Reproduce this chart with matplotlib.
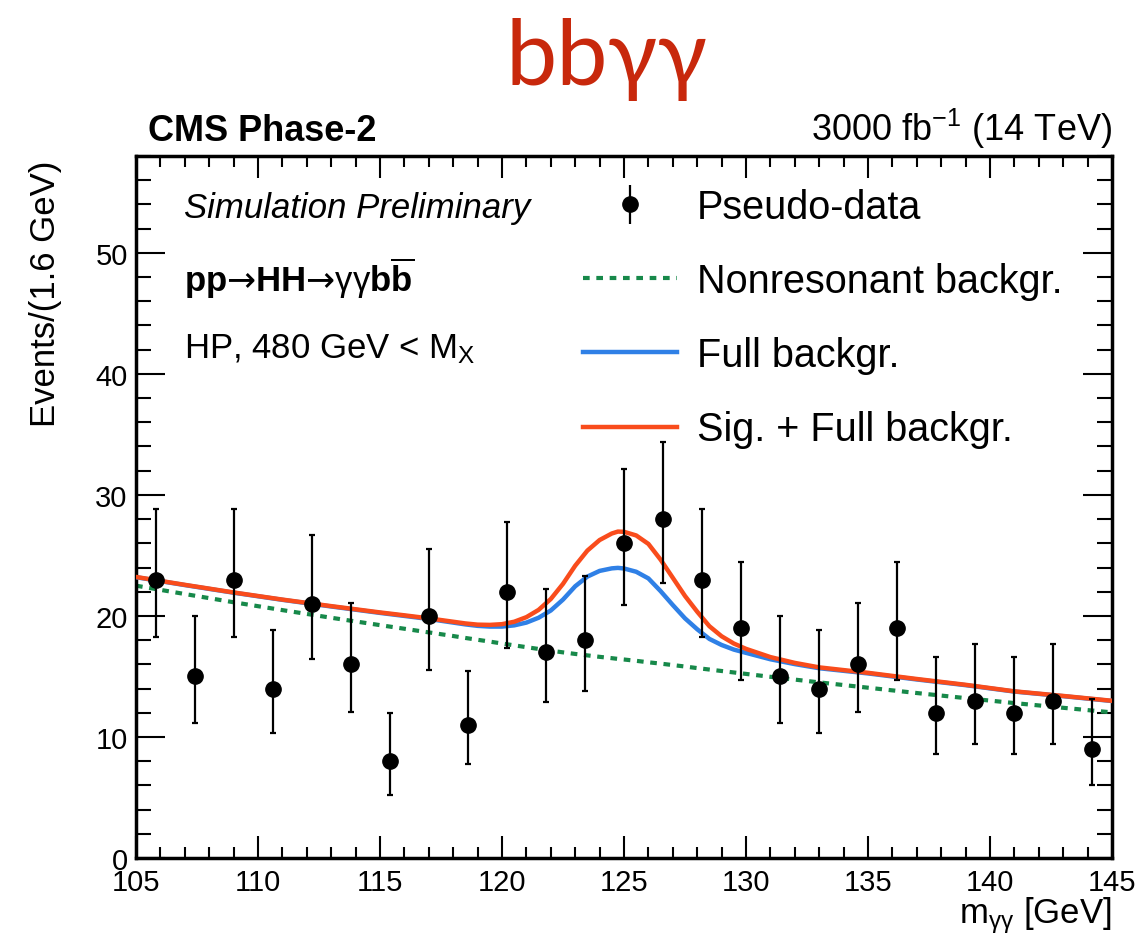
import matplotlib
matplotlib.use('Agg')
import matplotlib.pyplot as plt
from matplotlib.ticker import MultipleLocator
from matplotlib.lines import Line2D

plt.rcParams['font.family'] = ['Liberation Sans', 'DejaVu Sans']
plt.rcParams['mathtext.fontset'] = 'custom'
plt.rcParams['mathtext.rm'] = 'Liberation Sans'
plt.rcParams['mathtext.it'] = 'Liberation Sans:italic'
plt.rcParams['mathtext.bf'] = 'Liberation Sans:bold'
plt.rcParams['mathtext.sf'] = 'DejaVu Sans'

# pseudo-data, 1.6 GeV bins
bin_centers = [105.8, 107.4, 109.0, 110.6, 112.2, 113.8, 115.4, 117.0, 118.6,
               120.2, 121.8, 123.4, 125.0, 126.6, 128.2, 129.8, 131.4, 133.0,
               134.6, 136.2, 137.8, 139.4, 141.0, 142.6, 144.2]
counts = [23, 15, 23, 14, 21, 16, 8, 20, 11, 22, 17, 18, 26, 28, 23, 19, 15,
          14, 16, 19, 12, 13, 12, 13, 9]
# asymmetric poisson intervals
err_lo = [4.76, 3.82, 4.76, 3.69, 4.54, 3.95, 2.76, 4.43, 3.26, 4.65, 4.07,
          4.19, 5.06, 5.25, 4.76, 4.31, 3.82, 3.69, 3.95, 4.31, 3.41, 3.55,
          3.41, 3.55, 2.94]
err_hi = [5.87, 4.98, 5.87, 4.85, 5.66, 5.10, 3.95, 5.55, 4.43, 5.76, 5.22,
          5.34, 6.17, 6.36, 5.87, 5.45, 4.98, 4.85, 5.10, 5.45, 4.57, 4.71,
          4.57, 4.71, 4.11]

# fitted shapes
curve_x = [105, 107, 109, 111, 113, 115, 116, 117, 118, 118.5, 119, 119.5,
           120, 120.5, 121, 121.5, 122, 122.5, 123, 123.5, 124, 124.5, 124.75,
           125, 125.5, 126, 126.5, 127, 127.5, 128, 128.5, 129, 129.5, 130,
           131, 132, 133, 135, 137, 139, 141, 143, 145]
nonres_bkg = [22.50, 21.81, 21.13, 20.48, 19.85, 19.24, 18.94, 18.64, 18.34,
              18.18, 18.03, 17.88, 17.72, 17.57, 17.42, 17.27, 17.13, 16.99,
              16.86, 16.74, 16.62, 16.51, 16.45, 16.40, 16.29, 16.17, 16.06,
              15.94, 15.82, 15.69, 15.57, 15.45, 15.33, 15.21, 14.97, 14.74,
              14.51, 14.07, 13.63, 13.21, 12.80, 12.41, 12.03]
full_bkg = [23.20, 22.55, 21.92, 21.33, 20.78, 20.25, 20.00, 19.75, 19.45,
            19.30, 19.18, 19.12, 19.12, 19.22, 19.45, 19.85, 20.45, 21.35,
            22.45, 23.25, 23.72, 23.93, 23.97, 23.92, 23.65, 23.10, 22.05,
            20.90, 19.80, 18.90, 18.10, 17.60, 17.22, 16.95, 16.42, 16.02,
            15.68, 15.25, 14.75, 14.28, 13.75, 13.37, 12.97]
sig_plus_bkg = [23.22, 22.57, 21.94, 21.35, 20.81, 20.29, 20.05, 19.80, 19.52,
                19.38, 19.28, 19.26, 19.32, 19.52, 19.90, 20.50, 21.40, 22.65,
                24.15, 25.40, 26.27, 26.81, 26.97, 26.95, 26.65, 25.95, 24.65,
                23.15, 21.65, 20.35, 19.15, 18.32, 17.72, 17.28, 16.60, 16.12,
                15.75, 15.30, 14.79, 14.31, 13.77, 13.39, 12.99]

green = '#17894a'
blue = '#2f80e6'
red = '#f94c1c'

fig = plt.figure(figsize=(11.38, 9.45), dpi=100)
ax = fig.add_axes([136/1138, 86/945, 976/1138, 702/945])

ax.plot(curve_x, nonres_bkg, color=green, lw=3, ls=(0, (1.6, 1.6)), zorder=2)
ax.plot(curve_x, full_bkg, color=blue, lw=3.2, zorder=3)
ax.plot(curve_x, sig_plus_bkg, color=red, lw=3.2, zorder=4)
ax.errorbar(bin_centers, counts, yerr=[err_lo, err_hi], fmt='o', color='black',
            ms=11, elinewidth=1.6, capsize=2.5, capthick=1.6, zorder=5)

ax.set_xlim(105, 145)
ax.set_ylim(0, 58)
ax.xaxis.set_major_locator(MultipleLocator(5))
ax.xaxis.set_minor_locator(MultipleLocator(1))
ax.yaxis.set_major_locator(MultipleLocator(10))
ax.yaxis.set_minor_locator(MultipleLocator(2))
ax.tick_params(which='both', direction='in', top=True, right=True, width=1.5)
ax.tick_params(axis='x', which='major', length=16, labelsize=21, pad=7)
ax.tick_params(axis='x', which='minor', length=8)
ax.tick_params(axis='y', which='major', length=21, labelsize=21, pad=6)
ax.tick_params(axis='y', which='minor', length=10.5)
for sp in ax.spines.values():
    sp.set_linewidth(2.5)

ax.set_ylabel('Events/(1.6 GeV)', fontsize=25, loc='top')
ax.yaxis.set_label_coords(-0.076, 0.995)
ax.set_xlabel(r'm$_{\mathregular{γγ}}$ [GeV]', fontsize=25, loc='right')
ax.xaxis.set_label_coords(1.0, -0.052)

# header and labels
ax.text(0.012, 1.023, 'CMS Phase-2', transform=ax.transAxes, fontsize=26,
        weight='bold', va='baseline')
ax.text(1.0, 1.023, r'3000 fb$^{\mathregular{-1}}$ (14 TeV)', transform=ax.transAxes,
        fontsize=26, ha='right', va='baseline')
ax.text(0.049, 0.913, 'Simulation Preliminary', transform=ax.transAxes,
        fontsize=25, style='italic', va='baseline')
ax.text(0.049, 0.808,
        r'$\mathbf{pp}\mathsf{→}\mathbf{HH}\mathsf{→}\mathregular{γγ}\mathbf{b}\overline{\mathbf{b}}$',
        transform=ax.transAxes, fontsize=25, va='baseline')
ax.text(0.049, 0.713, r'HP, 480 GeV < M$_{\mathregular{X}}$', transform=ax.transAxes,
        fontsize=25, va='baseline')

fig.text(606/1138, 0.910, 'bbγγ', fontsize=66, color='#c8280c', ha='center',
         va='baseline', family=['Lato', 'DejaVu Sans'])

handles = [
    ax.errorbar([0], [0], yerr=[[1], [1]], fmt='o', color='black', ms=11,
                elinewidth=1.6),
    Line2D([], [], color=green, lw=3, ls=(0, (1.6, 1.6))),
    Line2D([], [], color=blue, lw=3.2),
    Line2D([], [], color=red, lw=3.2),
]
labels = ['Pseudo-data', 'Nonresonant backgr.', 'Full backgr.',
          'Sig. + Full backgr.']
ax.legend(handles, labels, loc='upper left', bbox_to_anchor=(0.458, 0.954),
          frameon=False, fontsize=28.5, handlelength=2.37, handletextpad=0.5,
          labelspacing=0.91, borderpad=0, borderaxespad=0)

fig.savefig('out.png', dpi=100)
